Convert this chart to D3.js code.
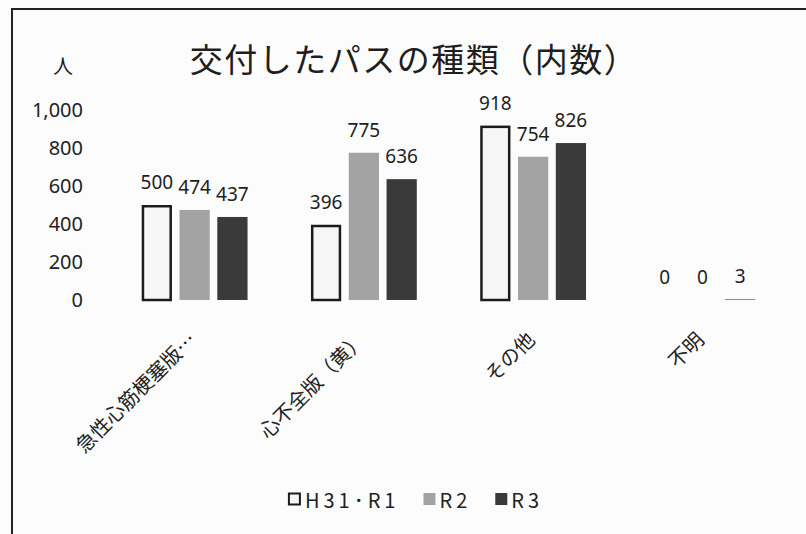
<!DOCTYPE html>
<html>
<head>
<meta charset="utf-8">
<script src="https://cdn.jsdelivr.net/npm/d3@7"></script>
<style>
	body { margin: 0; background: #fff; }
	svg { display: block; }
	.jp { font-family: "Noto Sans CJK JP", "Noto Sans", sans-serif; }
	.num { font-family: "Noto Sans", "DejaVu Sans", sans-serif; }
</style>
</head>
<body>
<svg id="chart" width="806" height="534"></svg>
<script>
/* data */
var categories = ["急性心筋梗塞版…", "心不全版（黄）", "その他", "不明"];
var seriesNames = ["H31･R1", "R2", "R3"];
var h31r1 = [500, 396, 918, 0];
var r2 = [474, 775, 754, 0];
var r3 = [437, 636, 826, 3];
var yTicks = [0, 200, 400, 600, 800, 1000];

var seriesValues = [h31r1, r2, r3];
var fills = ["#f6f6f6", "#a3a3a3", "#3a3a3a"];
var strokes = ["#1c1c1c", "none", "none"];

var svg = d3.select("#chart");

svg.append("rect")
	.attr("width", 806).attr("height", 534)
	.attr("fill", "#fcfcfc");

// frame of the pasted chart, runs off the right and bottom edge
svg.append("rect")
	.attr("x", 12).attr("y", 9)
	.attr("width", 830).attr("height", 560)
	.attr("fill", "none")
	.attr("stroke", "#222")
	.attr("stroke-width", 2);

var x0 = d3.scaleBand()
	.domain(categories)
	.range([110, 787])
	.paddingInner(0.33)
	.paddingOuter(0.165);

var x1 = d3.scaleBand()
	.domain(seriesNames)
	.range([0, x0.bandwidth()])
	.paddingInner(0.2)
	.paddingOuter(0.1);

var y = d3.scaleLinear()
	.domain([0, 1000])
	.range([300, 110]);

// title + unit
svg.append("text")
	.attr("class", "jp")
	.attr("x", 414).attr("y", 58)
	.attr("text-anchor", "middle")
	.attr("dominant-baseline", "central")
	.attr("font-size", 33)
	.attr("letter-spacing", 1.5)
	.attr("fill", "#1e1e1e")
	.text("交付したパスの種類（内数）");

svg.append("text")
	.attr("class", "jp")
	.attr("x", 63).attr("y", 65)
	.attr("text-anchor", "middle")
	.attr("dominant-baseline", "central")
	.attr("font-size", 20)
	.attr("fill", "#1e1e1e")
	.text("人");

// y axis labels only, no line
var yAxis = svg.append("g")
	.attr("class", "num")
	.attr("transform", "translate(93,0)")
	.call(d3.axisLeft(y).tickValues(yTicks).tickFormat(d3.format(",")).tickSize(0).tickPadding(10));
yAxis.select(".domain").remove();
yAxis.selectAll("text")
	.attr("font-family", "Noto Sans, DejaVu Sans, sans-serif")
	.attr("font-size", 20)
	.attr("fill", "#222");

// bars
var groups = svg.selectAll("g.grp")
	.data(categories)
	.enter().append("g")
	.attr("class", "grp")
	.attr("transform", d => "translate(" + x0(d) + ",0)");

groups.selectAll("rect")
	.data((d, i) => seriesNames.map((s, j) => ({ s: s, j: j, v: seriesValues[j][i] })))
	.enter().append("rect")
	.attr("x", d => x1(d.s) + (d.j === 0 ? 1.25 : 0))
	.attr("y", d => y(d.v) + (d.j === 0 && d.v > 0 ? 1.25 : 0))
	.attr("width", d => x1.bandwidth() - (d.j === 0 ? 2.5 : 0))
	.attr("height", d => d.v > 0 ? y(0) - y(d.v) - (d.j === 0 ? 1.25 : 0) : 0)
	.attr("fill", d => fills[d.j])
	.attr("stroke", d => d.v > 0 ? strokes[d.j] : "none")
	.attr("stroke-width", 2.5);

groups.selectAll("text.val")
	.data((d, i) => seriesNames.map((s, j) => ({ s: s, j: j, v: seriesValues[j][i] })))
	.enter().append("text")
	.attr("class", "val num")
	.attr("x", d => x1(d.s) + x1.bandwidth() / 2)
	.attr("y", d => y(d.v) - 16)
	.attr("text-anchor", "middle")
	.attr("font-size", 19)
	.attr("fill", "#1e1e1e")
	.text(d => d3.format(",")(d.v));

// rotated category labels
svg.selectAll("text.cat")
	.data(categories)
	.enter().append("text")
	.attr("class", "cat jp")
	.attr("text-anchor", "end")
	.attr("transform", d => "translate(" + (x0(d) + x0.bandwidth() / 2 + 3) + ",341) rotate(-45)")
	.attr("font-size", 20)
	.attr("fill", "#222")
	.text(d => d);

// legend
var legend = svg.append("g").attr("class", "jp");
var lx = 0;
seriesNames.forEach(function(name, j) {
	var item = legend.append("g").attr("transform", "translate(" + lx + ",0)");
	var m = j === 0 ? 13 : 12;
	item.append("rect")
		.attr("x", j === 0 ? 1 : 0).attr("y", -m / 2 + (j === 0 ? 1 : 0))
		.attr("width", m - (j === 0 ? 2 : 0)).attr("height", m - (j === 0 ? 2 : 0))
		.attr("fill", fills[j])
		.attr("stroke", strokes[j])
		.attr("stroke-width", 2);
	var t = item.append("text")
		.attr("x", m + 4)
		.attr("dominant-baseline", "central")
		.attr("font-size", 20)
		.attr("letter-spacing", 4)
		.attr("fill", "#222")
		.text(name);
	lx += m + 4 + t.node().getComputedTextLength() + 24;
});
var lw = legend.node().getBBox().width;
legend.attr("transform", "translate(" + (415 - lw / 2) + ",499)");
</script>
</body>
</html>
